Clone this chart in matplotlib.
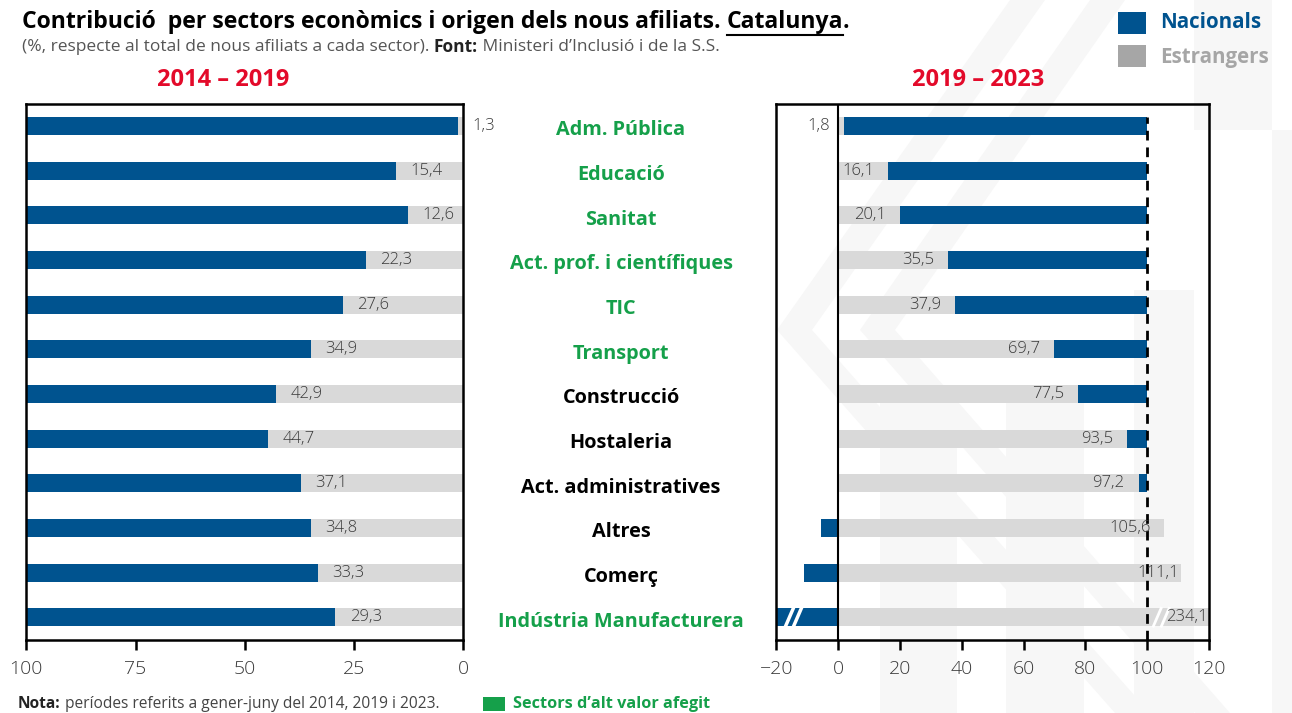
import numpy as np
import matplotlib
matplotlib.use('Agg')
import matplotlib.pyplot as plt
from matplotlib.patches import Rectangle, Polygon
from matplotlib.transforms import blended_transform_factory

plt.rcParams['font.family'] = ['Open Sans', 'DejaVu Sans']

# dades
sectors = ['Adm. Pública', 'Educació', 'Sanitat', 'Act. prof. i científiques', 'TIC',
           'Transport', 'Construcció', 'Hostaleria', 'Act. administratives', 'Altres',
           'Comerç', 'Indústria Manufacturera']
alt_valor = [True, True, True, True, True, True, False, False, False, False, False, True]
estrangers_14_19 = [1.3, 15.4, 12.6, 22.3, 27.6, 34.9, 42.9, 44.7, 37.1, 34.8, 33.3, 29.3]
estrangers_19_23 = [1.8, 16.1, 20.1, 35.5, 37.9, 69.7, 77.5, 93.5, 97.2, 105.6, 111.1, 234.1]
ticks_esq = [100, 75, 50, 25, 0]
ticks_dre = [-20, 0, 20, 40, 60, 80, 100, 120]

# colors
BLAU = '#00538F'
GRIS = '#D9D9D9'
VERD = '#15A04A'
VERMELL = '#E30A2A'
TXT = '#3A3A3A'

W, H = 1292, 713


def px(x, y):
    return (x / W, 1 - y / H)


fig = plt.figure(figsize=(W / 100, H / 100), dpi=100)

# marca d'aigua de fons (molt suau)
fons = '#F7F7F7'
for poly in [
    [(1010, 0), (1045, 0), (812, 330), (1150, 713), (1115, 713), (777, 330)],
    [(1090, 0), (1125, 0), (895, 330), (1230, 713), (1195, 713), (860, 330)],
]:
    fig.add_artist(Polygon([px(*p) for p in poly], closed=True, transform=fig.transFigure,
                           facecolor=fons, edgecolor='none', zorder=-10))
for (x0, y0, x1, y1) in [(1134, 290, 1194, 713), (1272, 130, 1292, 713),
                         (880, 400, 957, 713), (1006, 400, 1084, 713), (1194, 0, 1272, 130)]:
    fig.add_artist(Rectangle(px(x0, y1), (x1 - x0) / W, (y1 - y0) / H, transform=fig.transFigure,
                             facecolor=fons, edgecolor='none', zorder=-10))

ax1 = fig.add_axes([26.3 / W, 1 - 639.6 / H, 437 / W, 536 / H])
ax2 = fig.add_axes([776.3 / W, 1 - 639.6 / H, 432.7 / W, 536 / H])

y = np.arange(len(sectors))
e1 = np.array(estrangers_14_19)
e2 = np.array(estrangers_19_23)

# 2014-2019
ax1.barh(y, e1, left=0, height=0.4, color=GRIS, zorder=2)
ax1.barh(y, 100 - e1, left=e1, height=0.4, color=BLAU, zorder=2)
ax1.set_xlim(100, 0)
for yi, v in zip(y, e1):
    ax1.text(v - 3.3, yi, f'{v:.1f}'.replace('.', ','), ha='left', va='center',
             fontsize=12, color=TXT, fontweight='light', clip_on=False, zorder=3)
ax1.set_xticks(ticks_esq)

# 2019-2023
nac = 100 - e2
ax2.barh(y, e2, left=0, height=0.4, color=GRIS, zorder=2)
ax2.barh(y, nac, left=np.where(nac >= 0, e2, 0), height=0.4, color=BLAU, zorder=2)
ax2.set_xlim(-20, 120)
for yi, v in zip(y, e2):
    if v > 120:
        xt = 119.5
    elif v > 110:
        xt = v - 0.8
    else:
        xt = v - 4.5
    ax2.text(xt, yi, f'{v:.1f}'.replace('.', ','), ha='right', va='center',
             fontsize=12, color=TXT, fontweight='light', zorder=4)
    if v > 120:
        # talls de l'eix
        for dx in (0, 2.6):
            ax2.plot([102 + dx, 104.5 + dx], [yi + 0.2, yi - 0.2], color='white', lw=2, zorder=3)
        for dx in (0, 2.6):
            ax2.plot([-17 + dx, -14.5 + dx], [yi + 0.2, yi - 0.2], color='white', lw=2.5, zorder=3)
ax2.axvline(0, color='black', lw=1.5, zorder=3)
ax2.axvline(100, ymax=0.975, color='black', lw=2, ls=(0, (3.5, 2.5)), zorder=3)
ax2.set_xticks(ticks_dre)

for ax in (ax1, ax2):
    ax.set_ylim(len(sectors) - 0.5, -0.5)
    ax.set_yticks([])
    ax.set_facecolor('none')
    for s in ax.spines.values():
        s.set_linewidth(1.8)
    ax.tick_params(axis='x', direction='out', length=7, width=1.8, pad=8,
                   labelsize=14, labelcolor=TXT)
    for lab in ax.get_xticklabels():
        lab.set_fontweight('light')

# etiquetes de sector
tr = blended_transform_factory(fig.transFigure, ax1.transData)
for yi, nom, verd in zip(y, sectors, alt_valor):
    fig.text(621 / W, yi + 0.1, nom, transform=tr, ha='center', va='center',
             fontsize=14.3, fontweight='bold', color=VERD if verd else 'black')

# periodes
fig.text(*px(223, 80), '2014 – 2019', ha='center', va='center', fontsize=17,
         fontweight='bold', color=VERMELL)
fig.text(*px(978, 80), '2019 – 2023', ha='center', va='center', fontsize=17,
         fontweight='bold', color=VERMELL)

# titol i subtitol
fig.canvas.draw()
rend = fig.canvas.get_renderer()


def text_seguit(x, yy, parts, **kw):
    """escriu trossos de text un darrere l'altre; retorna els objectes"""
    objs = []
    for txt, extra in parts:
        opts = dict(kw)
        opts.update(extra)
        t = fig.text(x, yy, txt, ha='left', va='center', **opts)
        bb = t.get_window_extent(rend)
        x = bb.x1 / W
        objs.append(t)
    return objs


tit = text_seguit(22 / W, 1 - 22 / H,
                  [('Contribució  per sectors econòmics i origen dels nous afiliats. ', {}),
                   ('Catalunya', {}), ('.', {})],
                  fontsize=16.6, fontweight='bold', color='black')
bb = tit[1].get_window_extent(rend)
fig.add_artist(plt.Line2D([bb.x0 / W, bb.x1 / W], [(bb.y0 - 1) / H] * 2, color='black', lw=1.5,
                          transform=fig.transFigure))

text_seguit(22 / W, 1 - 47 / H,
            [('(%, respecte al total de nous afiliats a cada sector). ', {}),
             ('Font:', {'fontweight': 'bold', 'color': '#222222'}),
             (' Ministeri d’Inclusió i de la S.S.', {})],
            fontsize=12.5, color='#555555')

text_seguit(18 / W, 1 - 704 / H,
            [('Nota:', {'fontweight': 'bold', 'color': '#222222'}),
             (' períodes referits a gener-juny del 2014, 2019 i 2023.', {})],
            fontsize=11.2, color='#444444')

# llegendes
fig.add_artist(Rectangle(px(483, 711), 22 / W, 14 / H, transform=fig.transFigure,
                         facecolor=VERD, edgecolor='none'))
fig.text(*px(513, 704), 'Sectors d’alt valor afegit', ha='left', va='center',
         fontsize=11.7, fontweight='bold', color=VERD)

fig.add_artist(Rectangle(px(1118, 34), 28 / W, 22 / H, transform=fig.transFigure,
                         facecolor=BLAU, edgecolor='none'))
fig.add_artist(Rectangle(px(1118, 67), 28 / W, 22 / H, transform=fig.transFigure,
                         facecolor='#A6A6A6', edgecolor='none'))
fig.text(*px(1160, 23), 'Nacionals', ha='left', va='center', fontsize=14.8,
         fontweight='bold', color=BLAU)
fig.text(*px(1160, 57), 'Estrangers', ha='left', va='center', fontsize=14.8,
         fontweight='bold', color='#A6A6A6')

fig.savefig('out.png', dpi=100)
